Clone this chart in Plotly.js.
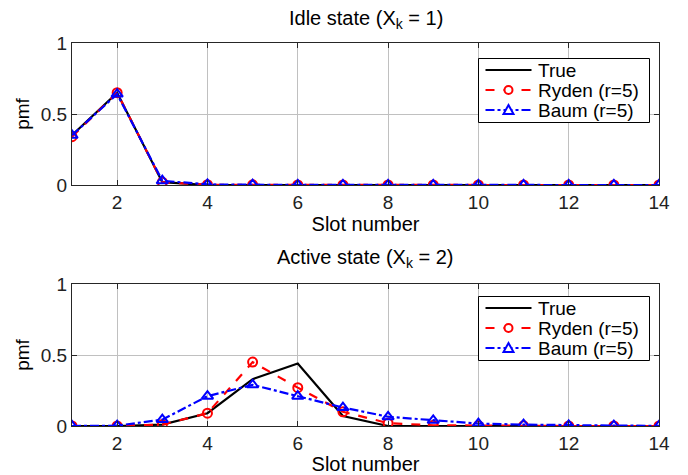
<!DOCTYPE html>
<html>
<head>
<meta charset="utf-8">
<script src="https://cdn.plot.ly/plotly-3.0.1.min.js"></script>
<style>html,body{margin:0;padding:0;background:#fff;}#chart{width:688px;height:475px;}</style>
</head>
<body>
<div id="chart"></div>
<script>
const slots = [1,2,3,4,5,6,7,8,9,10,11,12,13,14];
const idleTrue  = [0.35,0.65,0.02,0,0,0,0,0,0,0,0,0,0,0];
const idleRyden = [0.34,0.65,0.02,0.002,0.001,0,0,0,0,0,0,0,0,0];
const idleBaum  = [0.35,0.64,0.03,0.004,0.002,0.001,0.001,0,0,0,0,0,0,0];
const actTrue  = [0,0,0.01,0.09,0.33,0.44,0.07,0,0,0,0,0,0,0];
const actRyden = [0,0,0.01,0.09,0.45,0.27,0.10,0.02,0.005,0.002,0.001,0,0,0];
const actBaum  = [0,0.002,0.045,0.21,0.29,0.21,0.13,0.065,0.04,0.017,0.01,0.005,0.003,0.001];
const names = ['True','Ryden (r=5)','Baum (r=5)'];
const xTicks = [2,4,6,8,10,12,14];
const yTicks = [0,0.5,1];
const yTickText = ['0','0.5','1'];
const titles = ['Idle state (X<sub>k</sub> = 1)','Active state (X<sub>k</sub> = 2)'];

const FONT = 'Liberation Sans, Arial, Helvetica, sans-serif';
const W = 688, H = 475;
const px = v => v / W, py = v => (H - v) / H;
const colors = ['#000000', '#ff0000', '#0000ff'];
const dashes = ['solid', 'dash', 'dashdot'];

function traces(data, xa, ya) {
  return [
    {x: slots, y: data[0], name: names[0], xaxis: xa, yaxis: ya, mode: 'lines', showlegend: false,
     line: {color: colors[0], width: 2.2}},
    {x: slots, y: data[1], name: names[1], xaxis: xa, yaxis: ya, mode: 'lines+markers', showlegend: false,
     line: {color: colors[1], width: 2.2, dash: dashes[1]},
     marker: {symbol: 'circle-open', size: 9, color: colors[1], line: {width: 2, color: colors[1]}}},
    {x: slots, y: data[2], name: names[2], xaxis: xa, yaxis: ya, mode: 'lines+markers', showlegend: false,
     line: {color: colors[2], width: 2.2, dash: dashes[2]},
     marker: {symbol: 'triangle-up-open', size: 10, color: colors[2], line: {width: 2, color: colors[2]}}}
  ];
}
const data = traces([idleTrue, idleRyden, idleBaum], 'x', 'y')
  .concat(traces([actTrue, actRyden, actBaum], 'x2', 'y2'));

function xax(anchor, dom) {
  return {domain: dom, anchor: anchor, range: [1,14], tickvals: xTicks, ticks: 'inside', ticklen: 5,
    tickcolor: '#262626', showline: true, mirror: 'ticks', linecolor: '#262626', linewidth: 1,
    showgrid: true, gridcolor: '#c0c0c0', gridwidth: 1, zeroline: false,
    tickfont: {family: FONT, size: 19, color: '#222'},
    title: {text: 'Slot number', font: {family: FONT, size: 20, color: '#000'}, standoff: 0}};
}
function yax(anchor, dom) {
  return {domain: dom, anchor: anchor, range: [0,1], tickvals: yTicks, ticktext: yTickText, ticks: 'inside', ticklen: 5,
    tickcolor: '#262626', showline: true, mirror: 'ticks', linecolor: '#262626', linewidth: 1,
    showgrid: true, gridcolor: '#c0c0c0', gridwidth: 1, zeroline: false,
    tickfont: {family: FONT, size: 19, color: '#222'},
    title: {text: 'pmf', font: {family: FONT, size: 19, color: '#000'}, standoff: 6}};
}

// Hand-built legend boxes (MATLAB-like compact spacing)
const shapes = [], annotations = [];
function legendBox(left, top) {
  const right = left + 171, bottom = top + 64;
  shapes.push({type: 'rect', xref: 'paper', yref: 'paper', x0: px(left), x1: px(right), y0: py(top), y1: py(bottom),
    line: {color: '#000', width: 1}, fillcolor: '#ffffff', layer: 'above'});
  const rowY = [top + 11.5, top + 31.5, top + 51.5];
  const l0 = left + 7, l1 = left + 53, mid = (l0 + l1) / 2;
  for (let i = 0; i < 3; i++) {
    const y = rowY[i];
    shapes.push({type: 'line', xref: 'paper', yref: 'paper', x0: px(l0), x1: px(l1), y0: py(y), y1: py(y),
      line: {color: colors[i], width: 2.2, dash: dashes[i]}, layer: 'above'});
    if (i === 1) {
      shapes.push({type: 'circle', xref: 'paper', yref: 'paper', x0: px(mid - 4), x1: px(mid + 4), y0: py(y + 4), y1: py(y - 4),
        line: {color: colors[i], width: 2}, fillcolor: '#ffffff', layer: 'above'});
    }
    if (i === 2) {
      const a = [mid - 5, y + 4], b = [mid + 5, y + 4], c = [mid, y - 5];
      shapes.push({type: 'path', xref: 'paper', yref: 'paper',
        path: `M ${px(a[0])} ${py(a[1])} L ${px(b[0])} ${py(b[1])} L ${px(c[0])} ${py(c[1])} Z`,
        line: {color: colors[i], width: 2}, fillcolor: '#ffffff', layer: 'above'});
    }
    annotations.push({text: names[i], xref: 'paper', yref: 'paper', x: px(left + 57), y: py(y),
      xanchor: 'left', yanchor: 'middle', showarrow: false, font: {family: FONT, size: 19, color: '#000'}});
  }
}
legendBox(478.5, 58.5);
legendBox(478.5, 296.5);

const xd = [72/W, 659/W];
annotations.push(
  {text: titles[0], x: (xd[0]+xd[1])/2, y: py(19), xref: 'paper', yref: 'paper', showarrow: false,
   xanchor: 'center', yanchor: 'middle', font: {family: FONT, size: 20, color: '#000'}},
  {text: titles[1], x: (xd[0]+xd[1])/2, y: py(258), xref: 'paper', yref: 'paper', showarrow: false,
   xanchor: 'center', yanchor: 'middle', font: {family: FONT, size: 20, color: '#000'}}
);

const layout = {
  width: W, height: H, margin: {l: 0, r: 0, t: 0, b: 0},
  paper_bgcolor: '#ffffff', plot_bgcolor: '#ffffff', showlegend: false,
  font: {family: FONT, color: '#000'},
  xaxis: xax('y', xd), yaxis: yax('x', [py(185), py(43)]),
  xaxis2: xax('y2', xd), yaxis2: yax('x2', [py(426), py(284)]),
  shapes: shapes, annotations: annotations
};
Plotly.newPlot('chart', data, layout, {displayModeBar: false, staticPlot: true});
</script>
</body>
</html>
